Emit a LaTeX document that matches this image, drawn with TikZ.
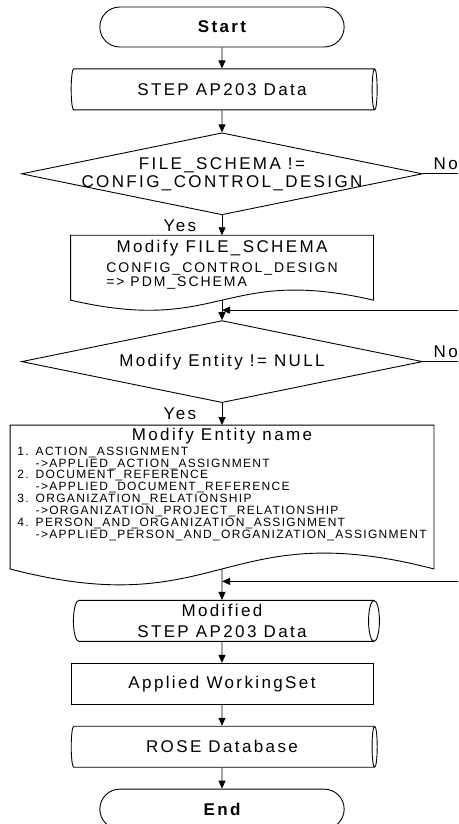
\documentclass[tikz,border=0pt]{standalone}
\usepackage{fontspec}
\setmainfont{Liberation Sans}[LetterSpace=14]
\newfontfamily\itemfont{Liberation Sans}[LetterSpace=11]
\usetikzlibrary{positioning}
\usetikzlibrary{arrows.meta,shapes.geometric,shapes.misc,calc}
\tikzset{
    >={Triangle[length=8pt,width=7pt]}, % small filled heads
    every node/.style={font=\fontsize{17}{18}\selectfont},
    every path/.style={line width=0.9pt},
    terminal/.style={rounded rectangle, draw, minimum width=251pt, minimum height=40pt,
        font=\fontsize{17}{18}\selectfont\bfseries},
    storage/.style={cylinder, draw, aspect=0.27, minimum width=41pt, minimum height=306pt, align=center},
    decision/.style={diamond, draw, minimum width=401pt, minimum height=82pt, inner sep=0pt},
    process/.style={rectangle, draw, minimum width=302pt, minimum height=41pt},
    docbox/.style={rectangle, align=center, inner sep=0pt},
}

\begin{document}
\begin{tikzpicture}[x=1pt, y=1pt]
    \useasboundingbox (0,0) rectangle (458,-824);
    \coordinate (rim) at (458,0);

    \node[terminal] (start) at (222,-27) {Start};
    \node[storage, below=21pt of start] (ap203) {STEP AP203 Data};
    \node[decision, below=22pt of ap203,
          label={[align=center]center:FILE\_SCHEMA !=\\CONFIG\_CONTROL\_DESIGN}] (schema) {};

    % first document box
    \node[docbox, minimum width=302pt, minimum height=64pt, below=20pt of schema] (modschema)
        {Modify FILE\_SCHEMA\\[2pt]
         {\fontsize{14}{13}\selectfont\begin{tabular}[t]{@{}l@{}}
            CONFIG\_CONTROL\_DESIGN\\
            => PDM\_SCHEMA\rule[-9pt]{0pt}{0pt}
         \end{tabular}}};

    \node[decision, below=20pt of modschema,
          label={center:Modify Entity != NULL}] (entity) {};

    % second document box
    \node[docbox, minimum width=423pt, minimum height=143pt, below=22pt of entity] (modentity)
        {Modify Entity name\\[-3pt]
         {\itemfont\fontsize{12}{11.5}\selectfont\begin{tabular}[t]{@{}l@{\hspace{7pt}}l@{}}
            1. & ACTION\_ASSIGNMENT\\
               & ->APPLIED\_ACTION\_ASSIGNMENT\\
            2. & DOCUMENT\_REFERENCE\\
               & ->APPLIED\_DOCUMENT\_REFERENCE\\
            3. & ORGANIZATION\_RELATIONSHIP\\
               & ->ORGANIZATION\_PROJECT\_RELATIONSHIP\\
            4. & PERSON\_AND\_ORGANIZATION\_ASSIGNMENT\\
               & ->APPLIED\_PERSON\_AND\_ORGANIZATION\_ASSIGNMENT\rule[-28pt]{0pt}{0pt}
         \end{tabular}}};

    \node[storage, below=31pt of modentity, font=\fontsize{17}{21}\selectfont] (modified)
        {Modified\\STEP AP203 Data};
    \node[process, below=21pt of modified] (working) {Applied WorkingSet};
    \node[storage, below=21pt of working] (rose) {ROSE Database};
    \node[terminal, below=21pt of rose] (stop) {End};

    % document outlines
    \draw (modschema.north west) -- (modschema.north east) -- (modschema.south east)
        .. controls +(-151,35) and +(151,-35) .. (modschema.south west) -- cycle;
    \draw (modentity.north west) -- (modentity.north east) -- (modentity.south east)
        .. controls +(-211,55) and +(211,-55) .. (modentity.south west) -- cycle;

    \draw[->] (start) -- (ap203);
    \draw[->] (ap203) -- (schema);
    \draw[->] (schema) -- node[left, xshift=-22pt] {Yes} (modschema);
    \draw (schema.east) -- (schema.east -| rim) node[pos=0, above right, xshift=7pt] {No};

    \coordinate (back1) at ($(modschema.south)!0.5!(entity.north)$);
    \draw[->] (back1 -| rim) -- (back1);
    \draw[->] (modschema) -- (entity);

    \draw[->] (entity) -- node[left, xshift=-22pt] {Yes} (modentity);
    \draw (entity.east) -- (entity.east -| rim) node[pos=0, above right, xshift=7pt] {No};

    \coordinate (back2) at ($(modentity.south)!0.4!(modified.north)$);
    \draw[->] (back2 -| rim) -- (back2);
    \draw[->] (modentity) -- (modified);
    \draw[->] (modified) -- (working);
    \draw[->] (working) -- (rose);
    \draw[->] (rose) -- (stop);
\end{tikzpicture}
\end{document}
